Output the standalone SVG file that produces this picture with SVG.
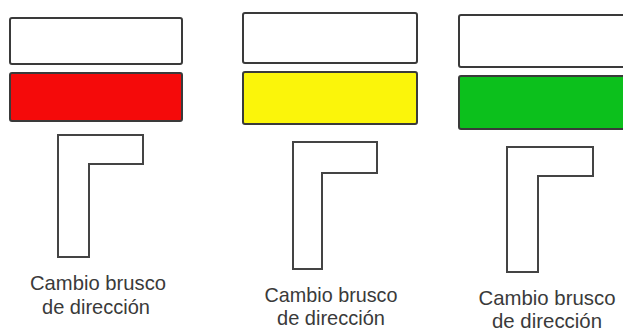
<svg xmlns="http://www.w3.org/2000/svg" width="623" height="332" viewBox="0 0 623 332">
<style>
.box{stroke:#3a3a3a;stroke-width:2;}
.white{fill:#ffffff;}
.red{fill:#f50a0a;}
.yellow{fill:#fbf50a;}
.green{fill:#0cc01c;}
.ell{fill:#ffffff;stroke:#444;stroke-width:2;}
.lbl{font-family:"Liberation Sans",Arial,sans-serif;font-size:21px;fill:#3a3a3a;text-anchor:middle;}
</style>
<rect width="623" height="332" fill="#ffffff"/>
<g id="panel-red">
<rect class="box white" x="10" y="18" width="172" height="46" rx="2"/>
<rect class="box red" x="10" y="73" width="172" height="48" rx="2"/>
<path class="ell" d="M58 135 H143 V164 H89 V257 H58 Z"/>
<text class="lbl" x="98" y="290" textLength="136" lengthAdjust="spacingAndGlyphs">Cambio brusco</text>
<text class="lbl" x="96" y="314" textLength="108" lengthAdjust="spacingAndGlyphs">de dirección</text>
</g>
<g id="panel-yellow">
<rect class="box white" x="243" y="13" width="174" height="50" rx="2"/>
<rect class="box yellow" x="243" y="72" width="174" height="52" rx="2"/>
<path class="ell" d="M293 142 H377 V173 H322 V269 H293 Z"/>
<text class="lbl" x="331" y="302" textLength="133" lengthAdjust="spacingAndGlyphs">Cambio brusco</text>
<text class="lbl" x="331" y="325" textLength="108" lengthAdjust="spacingAndGlyphs">de dirección</text>
</g>
<g id="panel-green">
<rect class="box white" x="459" y="15" width="170" height="52" rx="2"/>
<rect class="box green" x="459" y="76" width="170" height="53" rx="2"/>
<path class="ell" d="M507 147 H593 V176 H538 V272 H507 Z"/>
<text class="lbl" x="547" y="305" textLength="137" lengthAdjust="spacingAndGlyphs">Cambio brusco</text>
<text class="lbl" x="547" y="328" textLength="110" lengthAdjust="spacingAndGlyphs">de dirección</text>
</g>
</svg>
